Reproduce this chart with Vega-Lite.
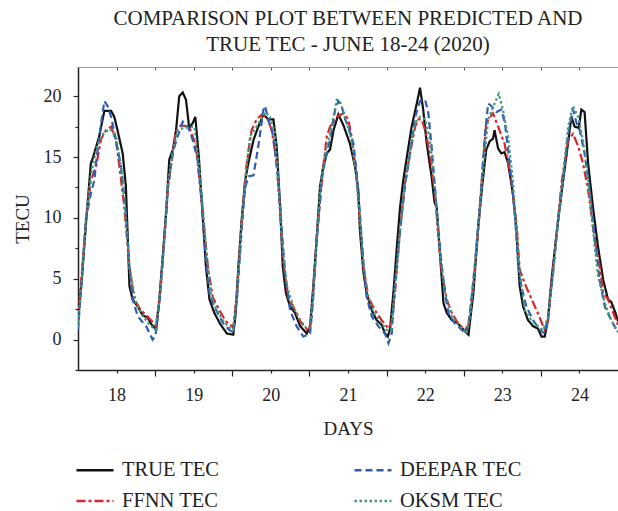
{
  "$schema": "https://vega.github.io/schema/vega-lite/v6.json",
  "autosize": {"type": "none"},
  "padding": {"left": 78, "top": 67, "right": 0, "bottom": 141},
  "width": 540,
  "height": 303,
  "background": "white",
  "config": {
    "font": "Liberation Serif",
    "view": {"stroke": null},
    "axis": {"grid": false, "domainColor": "#222", "tickColor": "#222", "labelColor": "#222", "titleColor": "#222", "labelFont": "Liberation Serif", "titleFont": "Liberation Serif", "titleFontWeight": "normal"}
  },
  "title": {
    "text": ["COMPARISON PLOT BETWEEN PREDICTED AND", "TRUE TEC - JUNE 18-24 (2020)"],
    "font": "Liberation Serif",
    "fontSize": 21,
    "fontWeight": "normal",
    "color": "#222",
    "anchor": "middle",
    "lineHeight": 26,
    "offset": 12
  },
  "data": {
    "values": [
      {"series":"TRUE TEC","hour":0,"tec":1.5},{"series":"TRUE TEC","hour":1.2,"tec":5},{"series":"TRUE TEC","hour":2.5,"tec":9.6},{"series":"TRUE TEC","hour":4,"tec":14.5},{"series":"TRUE TEC","hour":4.6,"tec":14.9},{"series":"TRUE TEC","hour":6.6,"tec":16.7},{"series":"TRUE TEC","hour":8.2,"tec":18.8},{"series":"TRUE TEC","hour":10.3,"tec":18.8},{"series":"TRUE TEC","hour":11.3,"tec":18.3},{"series":"TRUE TEC","hour":12.3,"tec":17.2},{"series":"TRUE TEC","hour":13.9,"tec":15.3},{"series":"TRUE TEC","hour":14.9,"tec":12.6},{"series":"TRUE TEC","hour":15.5,"tec":8.2},{"series":"TRUE TEC","hour":16,"tec":4.4},{"series":"TRUE TEC","hour":17,"tec":3.3},{"series":"TRUE TEC","hour":18.6,"tec":2.7},{"series":"TRUE TEC","hour":20.1,"tec":2.0},{"series":"TRUE TEC","hour":21.7,"tec":1.8},{"series":"TRUE TEC","hour":22.7,"tec":1.3},{"series":"TRUE TEC","hour":24.3,"tec":0.8},
      {"series":"TRUE TEC","hour":25.3,"tec":3.3},{"series":"TRUE TEC","hour":26.6,"tec":7.6},{"series":"TRUE TEC","hour":27.4,"tec":10.4},{"series":"TRUE TEC","hour":28.4,"tec":14.8},{"series":"TRUE TEC","hour":29.5,"tec":15.6},{"series":"TRUE TEC","hour":30.5,"tec":17.2},{"series":"TRUE TEC","hour":31.5,"tec":20.0},{"series":"TRUE TEC","hour":32.6,"tec":20.3},{"series":"TRUE TEC","hour":33.6,"tec":19.7},{"series":"TRUE TEC","hour":34.6,"tec":17.4},{"series":"TRUE TEC","hour":35.7,"tec":17.8},{"series":"TRUE TEC","hour":36.5,"tec":18.3},{"series":"TRUE TEC","hour":37.6,"tec":15.0},{"series":"TRUE TEC","hour":38.6,"tec":10.9},{"series":"TRUE TEC","hour":39.8,"tec":6.0},{"series":"TRUE TEC","hour":40.9,"tec":3.3},{"series":"TRUE TEC","hour":42.4,"tec":2.2},{"series":"TRUE TEC","hour":44.2,"tec":1.3},{"series":"TRUE TEC","hour":46.3,"tec":0.5},{"series":"TRUE TEC","hour":48.3,"tec":0.4},
      {"series":"TRUE TEC","hour":49,"tec":2.0},{"series":"TRUE TEC","hour":49.9,"tec":6.0},{"series":"TRUE TEC","hour":50.9,"tec":9.8},{"series":"TRUE TEC","hour":52,"tec":13.1},{"series":"TRUE TEC","hour":53,"tec":14.5},{"series":"TRUE TEC","hour":54.6,"tec":16.4},{"series":"TRUE TEC","hour":56.1,"tec":17.5},{"series":"TRUE TEC","hour":57.7,"tec":18.5},{"series":"TRUE TEC","hour":59.2,"tec":18.1},{"series":"TRUE TEC","hour":60.8,"tec":18.1},{"series":"TRUE TEC","hour":61.8,"tec":15.9},{"series":"TRUE TEC","hour":62.9,"tec":10.9},{"series":"TRUE TEC","hour":63.7,"tec":6.0},{"series":"TRUE TEC","hour":64.7,"tec":3.8},{"series":"TRUE TEC","hour":66,"tec":2.7},{"series":"TRUE TEC","hour":67.5,"tec":2.2},{"series":"TRUE TEC","hour":69.1,"tec":1.1},{"series":"TRUE TEC","hour":71.2,"tec":0.5},
      {"series":"TRUE TEC","hour":72.2,"tec":1.1},{"series":"TRUE TEC","hour":73.2,"tec":4.4},{"series":"TRUE TEC","hour":74.3,"tec":8.5},{"series":"TRUE TEC","hour":75.3,"tec":12.6},{"series":"TRUE TEC","hour":76.3,"tec":14.2},{"series":"TRUE TEC","hour":77.4,"tec":15.3},{"series":"TRUE TEC","hour":78.4,"tec":15.6},{"series":"TRUE TEC","hour":79.5,"tec":17.2},{"series":"TRUE TEC","hour":81,"tec":18.5},{"series":"TRUE TEC","hour":82.6,"tec":17.6},{"series":"TRUE TEC","hour":84.6,"tec":16.1},{"series":"TRUE TEC","hour":86.2,"tec":14.2},{"series":"TRUE TEC","hour":87.2,"tec":12.3},{"series":"TRUE TEC","hour":87.7,"tec":9.0},{"series":"TRUE TEC","hour":88.8,"tec":5.5},{"series":"TRUE TEC","hour":89.8,"tec":3.8},{"series":"TRUE TEC","hour":91.4,"tec":2.4},{"series":"TRUE TEC","hour":92.9,"tec":1.6},{"series":"TRUE TEC","hour":94.5,"tec":1.2},{"series":"TRUE TEC","hour":95.5,"tec":0.5},{"series":"TRUE TEC","hour":96.4,"tec":0.25},
      {"series":"TRUE TEC","hour":97.1,"tec":0.9},{"series":"TRUE TEC","hour":98.1,"tec":3.8},{"series":"TRUE TEC","hour":99.2,"tec":7.6},{"series":"TRUE TEC","hour":100.2,"tec":10.9},{"series":"TRUE TEC","hour":101.2,"tec":13.1},{"series":"TRUE TEC","hour":102.3,"tec":15.0},{"series":"TRUE TEC","hour":103.8,"tec":17.5},{"series":"TRUE TEC","hour":105.4,"tec":19.4},{"series":"TRUE TEC","hour":106.4,"tec":20.7},{"series":"TRUE TEC","hour":107.4,"tec":18.9},{"series":"TRUE TEC","hour":108.5,"tec":16.1},{"series":"TRUE TEC","hour":110,"tec":13.4},{"series":"TRUE TEC","hour":110.9,"tec":11.3},{"series":"TRUE TEC","hour":111.6,"tec":10.9},{"series":"TRUE TEC","hour":112.6,"tec":7.1},{"series":"TRUE TEC","hour":113.7,"tec":3.0},{"series":"TRUE TEC","hour":114.7,"tec":2.2},{"series":"TRUE TEC","hour":116.3,"tec":1.6},{"series":"TRUE TEC","hour":118.3,"tec":1.3},{"series":"TRUE TEC","hour":119.9,"tec":0.8},{"series":"TRUE TEC","hour":121.5,"tec":0.4},
      {"series":"TRUE TEC","hour":122,"tec":1.6},{"series":"TRUE TEC","hour":123,"tec":3.8},{"series":"TRUE TEC","hour":124.5,"tec":9.2},{"series":"TRUE TEC","hour":125.7,"tec":12.5},{"series":"TRUE TEC","hour":127,"tec":15.6},{"series":"TRUE TEC","hour":128.1,"tec":16.3},{"series":"TRUE TEC","hour":129.1,"tec":16.5},{"series":"TRUE TEC","hour":129.6,"tec":17.2},{"series":"TRUE TEC","hour":130.7,"tec":15.7},{"series":"TRUE TEC","hour":131.7,"tec":15.3},{"series":"TRUE TEC","hour":132.7,"tec":15.4},{"series":"TRUE TEC","hour":133.8,"tec":14.5},{"series":"TRUE TEC","hour":135.3,"tec":12.0},{"series":"TRUE TEC","hour":136.4,"tec":9.0},{"series":"TRUE TEC","hour":137.4,"tec":4.4},{"series":"TRUE TEC","hour":138.5,"tec":2.7},{"series":"TRUE TEC","hour":140,"tec":1.6},{"series":"TRUE TEC","hour":141.6,"tec":1.1},{"series":"TRUE TEC","hour":143.1,"tec":0.9},{"series":"TRUE TEC","hour":144.2,"tec":0.25},{"series":"TRUE TEC","hour":145.2,"tec":0.25},
      {"series":"TRUE TEC","hour":146.2,"tec":1.6},{"series":"TRUE TEC","hour":147.3,"tec":4.9},{"series":"TRUE TEC","hour":148.8,"tec":8.5},{"series":"TRUE TEC","hour":150.4,"tec":12.0},{"series":"TRUE TEC","hour":151.9,"tec":15.0},{"series":"TRUE TEC","hour":153.5,"tec":18.3},{"series":"TRUE TEC","hour":154.5,"tec":17.5},{"series":"TRUE TEC","hour":155.8,"tec":17.4},{"series":"TRUE TEC","hour":156.6,"tec":18.9},{"series":"TRUE TEC","hour":157.6,"tec":18.7},{"series":"TRUE TEC","hour":158.7,"tec":14.5},{"series":"TRUE TEC","hour":160.2,"tec":10.9},{"series":"TRUE TEC","hour":161.8,"tec":7.6},{"series":"TRUE TEC","hour":163.4,"tec":4.9},{"series":"TRUE TEC","hour":164.9,"tec":3.3},{"series":"TRUE TEC","hour":165.9,"tec":3.1},{"series":"TRUE TEC","hour":167.2,"tec":2.2},{"series":"TRUE TEC","hour":168,"tec":1.5},

      {"series":"FFNN TEC","hour":0,"tec":1.5},{"series":"FFNN TEC","hour":1.2,"tec":5.5},{"series":"FFNN TEC","hour":2.5,"tec":9.8},{"series":"FFNN TEC","hour":4,"tec":13.1},{"series":"FFNN TEC","hour":5.6,"tec":14.2},{"series":"FFNN TEC","hour":7.2,"tec":16.5},{"series":"FFNN TEC","hour":8.7,"tec":17.2},{"series":"FFNN TEC","hour":10.3,"tec":17.5},{"series":"FFNN TEC","hour":11.8,"tec":16.4},{"series":"FFNN TEC","hour":12.9,"tec":14.2},{"series":"FFNN TEC","hour":14.4,"tec":10.9},{"series":"FFNN TEC","hour":16,"tec":6.0},{"series":"FFNN TEC","hour":17.5,"tec":3.3},{"series":"FFNN TEC","hour":19.6,"tec":2.4},{"series":"FFNN TEC","hour":21.7,"tec":1.9},{"series":"FFNN TEC","hour":24.3,"tec":1.1},
      {"series":"FFNN TEC","hour":25.5,"tec":3.5},{"series":"FFNN TEC","hour":26.8,"tec":8},{"series":"FFNN TEC","hour":28,"tec":12.5},{"series":"FFNN TEC","hour":29.3,"tec":15.0},{"series":"FFNN TEC","hour":30.5,"tec":17.1},{"series":"FFNN TEC","hour":32,"tec":17.6},{"series":"FFNN TEC","hour":34.6,"tec":17.5},{"series":"FFNN TEC","hour":36.7,"tec":15.9},{"series":"FFNN TEC","hour":37.8,"tec":13.1},{"series":"FFNN TEC","hour":38.8,"tec":10.4},{"series":"FFNN TEC","hour":40.4,"tec":6.0},{"series":"FFNN TEC","hour":41.9,"tec":3.5},{"series":"FFNN TEC","hour":44,"tec":2.4},{"series":"FFNN TEC","hour":46,"tec":1.5},{"series":"FFNN TEC","hour":48.3,"tec":1.0},
      {"series":"FFNN TEC","hour":49.5,"tec":4},{"series":"FFNN TEC","hour":50.9,"tec":9.5},{"series":"FFNN TEC","hour":52.5,"tec":14.5},{"series":"FFNN TEC","hour":54,"tec":17.2},{"series":"FFNN TEC","hour":55.6,"tec":18.1},{"series":"FFNN TEC","hour":57.2,"tec":18.5},{"series":"FFNN TEC","hour":58.7,"tec":18.3},{"series":"FFNN TEC","hour":60.3,"tec":17.2},{"series":"FFNN TEC","hour":61.8,"tec":14.5},{"series":"FFNN TEC","hour":62.9,"tec":10.4},{"series":"FFNN TEC","hour":63.9,"tec":6.3},{"series":"FFNN TEC","hour":65.4,"tec":3.5},{"series":"FFNN TEC","hour":67.5,"tec":2.4},{"series":"FFNN TEC","hour":69.6,"tec":1.3},{"series":"FFNN TEC","hour":71.7,"tec":0.7},
      {"series":"FFNN TEC","hour":72.6,"tec":1.5},{"series":"FFNN TEC","hour":74.3,"tec":8.5},{"series":"FFNN TEC","hour":76.3,"tec":14.2},{"series":"FFNN TEC","hour":77.4,"tec":16.7},{"series":"FFNN TEC","hour":78.4,"tec":17.5},{"series":"FFNN TEC","hour":80.5,"tec":18.3},{"series":"FFNN TEC","hour":82.6,"tec":18.6},{"series":"FFNN TEC","hour":84.1,"tec":18.1},{"series":"FFNN TEC","hour":85.1,"tec":16.7},{"series":"FFNN TEC","hour":86.7,"tec":13.4},{"series":"FFNN TEC","hour":87.7,"tec":9.8},{"series":"FFNN TEC","hour":88.8,"tec":6.0},{"series":"FFNN TEC","hour":90.3,"tec":3.5},{"series":"FFNN TEC","hour":92.4,"tec":2.4},{"series":"FFNN TEC","hour":94.5,"tec":1.6},{"series":"FFNN TEC","hour":96.6,"tec":0.9},
      {"series":"FFNN TEC","hour":97.6,"tec":1.5},{"series":"FFNN TEC","hour":98.6,"tec":3.8},{"series":"FFNN TEC","hour":100.2,"tec":9.0},{"series":"FFNN TEC","hour":101.7,"tec":12.8},{"series":"FFNN TEC","hour":103.3,"tec":15.3},{"series":"FFNN TEC","hour":104.9,"tec":17.5},{"series":"FFNN TEC","hour":105.9,"tec":18.1},{"series":"FFNN TEC","hour":106.9,"tec":18.1},{"series":"FFNN TEC","hour":108,"tec":17.2},{"series":"FFNN TEC","hour":109.5,"tec":15.3},{"series":"FFNN TEC","hour":111.1,"tec":11.8},{"series":"FFNN TEC","hour":112.1,"tec":8.5},{"series":"FFNN TEC","hour":113.2,"tec":5.5},{"series":"FFNN TEC","hour":114.7,"tec":3.3},{"series":"FFNN TEC","hour":116.3,"tec":2.2},{"series":"FFNN TEC","hour":118.3,"tec":1.3},{"series":"FFNN TEC","hour":120.4,"tec":0.8},
      {"series":"FFNN TEC","hour":121.5,"tec":1.2},{"series":"FFNN TEC","hour":123,"tec":4.5},{"series":"FFNN TEC","hour":124.5,"tec":9.0},{"series":"FFNN TEC","hour":126,"tec":14.5},{"series":"FFNN TEC","hour":127,"tec":17.8},{"series":"FFNN TEC","hour":129.1,"tec":18.6},{"series":"FFNN TEC","hour":130.7,"tec":17.5},{"series":"FFNN TEC","hour":132.7,"tec":16.1},{"series":"FFNN TEC","hour":134.8,"tec":13.1},{"series":"FFNN TEC","hour":136.4,"tec":9.6},{"series":"FFNN TEC","hour":137.4,"tec":5.8},{"series":"FFNN TEC","hour":139,"tec":4.6},{"series":"FFNN TEC","hour":141,"tec":3.4},{"series":"FFNN TEC","hour":143,"tec":2.2},{"series":"FFNN TEC","hour":145.2,"tec":0.8},
      {"series":"FFNN TEC","hour":146.2,"tec":1.6},{"series":"FFNN TEC","hour":147.5,"tec":5.0},{"series":"FFNN TEC","hour":149,"tec":9.0},{"series":"FFNN TEC","hour":150.5,"tec":13.0},{"series":"FFNN TEC","hour":152.5,"tec":16.4},{"series":"FFNN TEC","hour":154,"tec":16.9},{"series":"FFNN TEC","hour":155.6,"tec":15.9},{"series":"FFNN TEC","hour":157.1,"tec":14.5},{"series":"FFNN TEC","hour":158.7,"tec":12.3},{"series":"FFNN TEC","hour":160.8,"tec":8.2},{"series":"FFNN TEC","hour":162.3,"tec":6.0},{"series":"FFNN TEC","hour":163.4,"tec":3.8},{"series":"FFNN TEC","hour":164.9,"tec":3.3},{"series":"FFNN TEC","hour":166.5,"tec":2.2},{"series":"FFNN TEC","hour":168,"tec":1.2},

      {"series":"DEEPAR TEC","hour":0,"tec":0.8},{"series":"DEEPAR TEC","hour":1.2,"tec":5},{"series":"DEEPAR TEC","hour":2.5,"tec":10.0},{"series":"DEEPAR TEC","hour":4,"tec":12.0},{"series":"DEEPAR TEC","hour":5.1,"tec":13.1},{"series":"DEEPAR TEC","hour":5.6,"tec":14.5},{"series":"DEEPAR TEC","hour":7.2,"tec":17.8},{"series":"DEEPAR TEC","hour":8.2,"tec":19.6},{"series":"DEEPAR TEC","hour":9.2,"tec":19.2},{"series":"DEEPAR TEC","hour":10.3,"tec":18.3},{"series":"DEEPAR TEC","hour":11.8,"tec":16.4},{"series":"DEEPAR TEC","hour":13.4,"tec":14.2},{"series":"DEEPAR TEC","hour":14.9,"tec":10.4},{"series":"DEEPAR TEC","hour":16,"tec":6.0},{"series":"DEEPAR TEC","hour":17,"tec":3.3},{"series":"DEEPAR TEC","hour":18.6,"tec":1.9},{"series":"DEEPAR TEC","hour":21.2,"tec":1.1},{"series":"DEEPAR TEC","hour":23.2,"tec":0.0},{"series":"DEEPAR TEC","hour":24.1,"tec":0.3},
      {"series":"DEEPAR TEC","hour":25.3,"tec":3.0},{"series":"DEEPAR TEC","hour":26.6,"tec":7.5},{"series":"DEEPAR TEC","hour":28,"tec":12.5},{"series":"DEEPAR TEC","hour":29.5,"tec":15.4},{"series":"DEEPAR TEC","hour":31,"tec":16.7},{"series":"DEEPAR TEC","hour":32.6,"tec":17.9},{"series":"DEEPAR TEC","hour":34.2,"tec":17.5},{"series":"DEEPAR TEC","hour":35.7,"tec":16.4},{"series":"DEEPAR TEC","hour":37.2,"tec":14.8},{"series":"DEEPAR TEC","hour":38.5,"tec":11.5},{"series":"DEEPAR TEC","hour":39.8,"tec":6.5},{"series":"DEEPAR TEC","hour":41,"tec":3.6},{"series":"DEEPAR TEC","hour":43,"tec":2.4},{"series":"DEEPAR TEC","hour":45,"tec":1.4},{"series":"DEEPAR TEC","hour":47,"tec":0.8},{"series":"DEEPAR TEC","hour":48.3,"tec":0.6},
      {"series":"DEEPAR TEC","hour":49.5,"tec":3.5},{"series":"DEEPAR TEC","hour":50.9,"tec":9.0},{"series":"DEEPAR TEC","hour":52,"tec":12.5},{"series":"DEEPAR TEC","hour":53,"tec":13.4},{"series":"DEEPAR TEC","hour":54.6,"tec":13.5},{"series":"DEEPAR TEC","hour":56.1,"tec":15.9},{"series":"DEEPAR TEC","hour":57.7,"tec":18.9},{"series":"DEEPAR TEC","hour":58.2,"tec":19.2},{"series":"DEEPAR TEC","hour":59.2,"tec":18.1},{"series":"DEEPAR TEC","hour":60.8,"tec":16.7},{"series":"DEEPAR TEC","hour":62.3,"tec":13.1},{"series":"DEEPAR TEC","hour":63.4,"tec":9.0},{"series":"DEEPAR TEC","hour":64.4,"tec":5.5},{"series":"DEEPAR TEC","hour":66,"tec":2.4},{"series":"DEEPAR TEC","hour":68,"tec":1.1},{"series":"DEEPAR TEC","hour":70.1,"tec":0.25},{"series":"DEEPAR TEC","hour":72.2,"tec":0.5},
      {"series":"DEEPAR TEC","hour":73.2,"tec":3.5},{"series":"DEEPAR TEC","hour":74.3,"tec":8.2},{"series":"DEEPAR TEC","hour":75.8,"tec":13.1},{"series":"DEEPAR TEC","hour":76.9,"tec":14.8},{"series":"DEEPAR TEC","hour":78.4,"tec":16.4},{"series":"DEEPAR TEC","hour":80,"tec":18.9},{"series":"DEEPAR TEC","hour":81,"tec":19.6},{"series":"DEEPAR TEC","hour":82,"tec":19.2},{"series":"DEEPAR TEC","hour":83.1,"tec":18.1},{"series":"DEEPAR TEC","hour":84.1,"tec":17.5},{"series":"DEEPAR TEC","hour":85.7,"tec":16.1},{"series":"DEEPAR TEC","hour":86.7,"tec":13.7},{"series":"DEEPAR TEC","hour":87.7,"tec":10.4},{"series":"DEEPAR TEC","hour":88.8,"tec":6.3},{"series":"DEEPAR TEC","hour":89.8,"tec":3.5},{"series":"DEEPAR TEC","hour":91.4,"tec":1.9},{"series":"DEEPAR TEC","hour":93.4,"tec":1.1},{"series":"DEEPAR TEC","hour":95.5,"tec":0.5},{"series":"DEEPAR TEC","hour":96.6,"tec":-0.3},
      {"series":"DEEPAR TEC","hour":97.6,"tec":0.5},{"series":"DEEPAR TEC","hour":98.6,"tec":4.4},{"series":"DEEPAR TEC","hour":100.2,"tec":9.0},{"series":"DEEPAR TEC","hour":101.7,"tec":12.6},{"series":"DEEPAR TEC","hour":103.3,"tec":15.3},{"series":"DEEPAR TEC","hour":104.9,"tec":18.3},{"series":"DEEPAR TEC","hour":106.4,"tec":19.6},{"series":"DEEPAR TEC","hour":108,"tec":19.7},{"series":"DEEPAR TEC","hour":109,"tec":18.6},{"series":"DEEPAR TEC","hour":110,"tec":15.9},{"series":"DEEPAR TEC","hour":111.1,"tec":12.3},{"series":"DEEPAR TEC","hour":112.1,"tec":9.0},{"series":"DEEPAR TEC","hour":113.2,"tec":6.0},{"series":"DEEPAR TEC","hour":114.2,"tec":3.8},{"series":"DEEPAR TEC","hour":115.2,"tec":2.2},{"series":"DEEPAR TEC","hour":117.3,"tec":1.3},{"series":"DEEPAR TEC","hour":119.4,"tec":0.8},{"series":"DEEPAR TEC","hour":120.9,"tec":0.5},
      {"series":"DEEPAR TEC","hour":122,"tec":2.2},{"series":"DEEPAR TEC","hour":123.5,"tec":6.3},{"series":"DEEPAR TEC","hour":125,"tec":10.9},{"series":"DEEPAR TEC","hour":126,"tec":14.5},{"series":"DEEPAR TEC","hour":126.6,"tec":16.8},{"series":"DEEPAR TEC","hour":127.6,"tec":19.4},{"series":"DEEPAR TEC","hour":128.6,"tec":19.2},{"series":"DEEPAR TEC","hour":130.2,"tec":18.7},{"series":"DEEPAR TEC","hour":131.7,"tec":18.9},{"series":"DEEPAR TEC","hour":132.8,"tec":17.8},{"series":"DEEPAR TEC","hour":134.3,"tec":14.5},{"series":"DEEPAR TEC","hour":135.9,"tec":10.4},{"series":"DEEPAR TEC","hour":136.9,"tec":6.3},{"series":"DEEPAR TEC","hour":137.9,"tec":4.4},{"series":"DEEPAR TEC","hour":139.5,"tec":2.7},{"series":"DEEPAR TEC","hour":141.6,"tec":1.6},{"series":"DEEPAR TEC","hour":143.6,"tec":0.8},{"series":"DEEPAR TEC","hour":145.2,"tec":0.5},
      {"series":"DEEPAR TEC","hour":146.2,"tec":1.6},{"series":"DEEPAR TEC","hour":147.8,"tec":5.5},{"series":"DEEPAR TEC","hour":149.3,"tec":9.6},{"series":"DEEPAR TEC","hour":150.9,"tec":13.1},{"series":"DEEPAR TEC","hour":152.5,"tec":16.9},{"series":"DEEPAR TEC","hour":154,"tec":18.9},{"series":"DEEPAR TEC","hour":155.1,"tec":17.8},{"series":"DEEPAR TEC","hour":156.1,"tec":17.2},{"series":"DEEPAR TEC","hour":157.6,"tec":15.3},{"series":"DEEPAR TEC","hour":159.2,"tec":12.3},{"series":"DEEPAR TEC","hour":160.8,"tec":8.2},{"series":"DEEPAR TEC","hour":162.3,"tec":4.9},{"series":"DEEPAR TEC","hour":163.9,"tec":2.7},{"series":"DEEPAR TEC","hour":165.9,"tec":1.6},{"series":"DEEPAR TEC","hour":167.5,"tec":0.8},{"series":"DEEPAR TEC","hour":168,"tec":0.6},

      {"series":"OKSM TEC","hour":0,"tec":1.0},{"series":"OKSM TEC","hour":1.2,"tec":5},{"series":"OKSM TEC","hour":2.5,"tec":10},{"series":"OKSM TEC","hour":4,"tec":13.5},{"series":"OKSM TEC","hour":6,"tec":16.0},{"series":"OKSM TEC","hour":8,"tec":17.0},{"series":"OKSM TEC","hour":10,"tec":17.3},{"series":"OKSM TEC","hour":12,"tec":16.5},{"series":"OKSM TEC","hour":14,"tec":13},{"series":"OKSM TEC","hour":16,"tec":6},{"series":"OKSM TEC","hour":18,"tec":3},{"series":"OKSM TEC","hour":20,"tec":2},{"series":"OKSM TEC","hour":22,"tec":1.3},{"series":"OKSM TEC","hour":24,"tec":0.8},
      {"series":"OKSM TEC","hour":25.5,"tec":3.5},{"series":"OKSM TEC","hour":26.8,"tec":8},{"series":"OKSM TEC","hour":28,"tec":12.8},{"series":"OKSM TEC","hour":29.5,"tec":15.5},{"series":"OKSM TEC","hour":31,"tec":17.2},{"series":"OKSM TEC","hour":33,"tec":17.4},{"series":"OKSM TEC","hour":36.2,"tec":17.5},{"series":"OKSM TEC","hour":37.8,"tec":14},{"series":"OKSM TEC","hour":38.8,"tec":11},{"series":"OKSM TEC","hour":40,"tec":7},{"series":"OKSM TEC","hour":41.5,"tec":3.6},{"series":"OKSM TEC","hour":43,"tec":2.5},{"series":"OKSM TEC","hour":45,"tec":1.6},{"series":"OKSM TEC","hour":47,"tec":1.0},{"series":"OKSM TEC","hour":48.3,"tec":0.8},
      {"series":"OKSM TEC","hour":49.5,"tec":3.8},{"series":"OKSM TEC","hour":50.9,"tec":9.5},{"series":"OKSM TEC","hour":52,"tec":13},{"series":"OKSM TEC","hour":53.5,"tec":16.7},{"series":"OKSM TEC","hour":55.6,"tec":17.5},{"series":"OKSM TEC","hour":58.2,"tec":18.7},{"series":"OKSM TEC","hour":59.7,"tec":18.3},{"series":"OKSM TEC","hour":61.3,"tec":17},{"series":"OKSM TEC","hour":62.3,"tec":13.1},{"series":"OKSM TEC","hour":63.4,"tec":8.2},{"series":"OKSM TEC","hour":65,"tec":4.4},{"series":"OKSM TEC","hour":67,"tec":2.7},{"series":"OKSM TEC","hour":69.1,"tec":1.6},{"series":"OKSM TEC","hour":71.2,"tec":0.9},
      {"series":"OKSM TEC","hour":72.2,"tec":1.0},{"series":"OKSM TEC","hour":73.2,"tec":3.8},{"series":"OKSM TEC","hour":74.3,"tec":8.3},{"series":"OKSM TEC","hour":75.5,"tec":12.8},{"series":"OKSM TEC","hour":77,"tec":15.5},{"series":"OKSM TEC","hour":78.5,"tec":17.0},{"series":"OKSM TEC","hour":80.5,"tec":19.7},{"series":"OKSM TEC","hour":81.5,"tec":19.6},{"series":"OKSM TEC","hour":83.6,"tec":17.8},{"series":"OKSM TEC","hour":85,"tec":16.5},{"series":"OKSM TEC","hour":86.5,"tec":13.5},{"series":"OKSM TEC","hour":87.7,"tec":10},{"series":"OKSM TEC","hour":88.8,"tec":6.2},{"series":"OKSM TEC","hour":90,"tec":3.8},{"series":"OKSM TEC","hour":92,"tec":2.2},{"series":"OKSM TEC","hour":94,"tec":1.5},{"series":"OKSM TEC","hour":96,"tec":0.8},
      {"series":"OKSM TEC","hour":97.4,"tec":0.8},{"series":"OKSM TEC","hour":98.6,"tec":4.2},{"series":"OKSM TEC","hour":100.2,"tec":9.0},{"series":"OKSM TEC","hour":101.7,"tec":12.8},{"series":"OKSM TEC","hour":103.3,"tec":15.5},{"series":"OKSM TEC","hour":104.9,"tec":17.8},{"series":"OKSM TEC","hour":106.4,"tec":18.3},{"series":"OKSM TEC","hour":108,"tec":18.1},{"series":"OKSM TEC","hour":109.5,"tec":16.4},{"series":"OKSM TEC","hour":111.1,"tec":12.3},{"series":"OKSM TEC","hour":112.6,"tec":7.1},{"series":"OKSM TEC","hour":114.2,"tec":3.8},{"series":"OKSM TEC","hour":116.3,"tec":1.9},{"series":"OKSM TEC","hour":118.8,"tec":1.1},{"series":"OKSM TEC","hour":120.9,"tec":0.5},
      {"series":"OKSM TEC","hour":122,"tec":2.0},{"series":"OKSM TEC","hour":123.5,"tec":6.0},{"series":"OKSM TEC","hour":124.5,"tec":9.2},{"series":"OKSM TEC","hour":126,"tec":13.8},{"series":"OKSM TEC","hour":127.6,"tec":18.1},{"series":"OKSM TEC","hour":129.6,"tec":19.4},{"series":"OKSM TEC","hour":130.9,"tec":20.2},{"series":"OKSM TEC","hour":132.2,"tec":18.9},{"series":"OKSM TEC","hour":133.8,"tec":16.7},{"series":"OKSM TEC","hour":135.3,"tec":13.1},{"series":"OKSM TEC","hour":136.4,"tec":9.0},{"series":"OKSM TEC","hour":137.4,"tec":5.5},{"series":"OKSM TEC","hour":139,"tec":2.4},{"series":"OKSM TEC","hour":141,"tec":1.6},{"series":"OKSM TEC","hour":143.1,"tec":1.1},{"series":"OKSM TEC","hour":144.7,"tec":0.8},
      {"series":"OKSM TEC","hour":146.2,"tec":1.8},{"series":"OKSM TEC","hour":147.8,"tec":5.5},{"series":"OKSM TEC","hour":149.3,"tec":9.6},{"series":"OKSM TEC","hour":150.9,"tec":13.5},{"series":"OKSM TEC","hour":152.5,"tec":17.5},{"series":"OKSM TEC","hour":154,"tec":19.2},{"series":"OKSM TEC","hour":155.6,"tec":18.3},{"series":"OKSM TEC","hour":157.1,"tec":16.4},{"series":"OKSM TEC","hour":158.7,"tec":13.1},{"series":"OKSM TEC","hour":160.2,"tec":9.0},{"series":"OKSM TEC","hour":161.8,"tec":5.2},{"series":"OKSM TEC","hour":163.9,"tec":3.0},{"series":"OKSM TEC","hour":165.9,"tec":1.6},{"series":"OKSM TEC","hour":168,"tec":0.6}
    ]
  },
  "encoding": {
    "y": {
      "field": "tec", "type": "quantitative",
      "scale": {"domain": [-2.5, 22.4], "nice": false, "zero": false},
      "axis": {
        "title": "TECU", "titleFontSize": 19, "titlePadding": 11,
        "values": [-2.5, 0, 2.5, 5, 7.5, 10, 12.5, 15, 17.5, 20],
        "labelExpr": "datum.value % 5 == 0 ? datum.label : ''",
        "labelFontSize": 18, "labelPadding": 12,
        "tickSize": {"condition": {"test": "datum.value % 5 == 0", "value": 5}, "value": 3},
        "domainWidth": 1.5, "tickWidth": 1.2
      }
    }
  },
  "layer": [
    {
      "mark": {"type": "line", "strokeWidth": 2.2, "clip": true},
      "encoding": {
        "x": {
          "field": "hour", "type": "quantitative",
          "scale": {"domain": [0, 168], "nice": false, "zero": false},
          "axis": {
            "orient": "bottom", "title": "DAYS", "titleFontSize": 19, "titlePadding": 15,
            "values": [12, 24, 36, 48, 60, 72, 84, 96, 108, 120, 132, 144, 156],
            "labelExpr": "(datum.value - 12) % 24 == 0 ? '' + ((datum.value - 12) / 24 + 18) : ''",
            "labelFontSize": 18, "labelPadding": 13,
            "tickSize": {"condition": {"test": "datum.value % 24 == 0", "value": 6}, "value": 3},
            "domainWidth": 1.5, "tickWidth": 1.2
          }
        },
        "color": {
          "field": "series", "type": "nominal",
          "scale": {"domain": ["TRUE TEC", "FFNN TEC", "DEEPAR TEC", "OKSM TEC"], "range": ["#111111", "#d9262b", "#2f5cb5", "#3f9a78"]},
          "legend": {"title": null, "orient": "none", "legendX": -3, "legendY": 383, "columns": 2, "columnPadding": 129, "rowPadding": -3, "symbolType": "stroke", "symbolSize": 1369, "symbolStrokeWidth": 2.5, "labelFontSize": 20.5, "labelFont": "Liberation Serif", "labelColor": "#222", "labelOffset": 7}
        },
        "strokeDash": {
          "field": "series", "type": "nominal",
          "scale": {"domain": ["TRUE TEC", "FFNN TEC", "DEEPAR TEC", "OKSM TEC"], "range": [[1, 0], [9, 3, 3, 3], [7, 4], [2.5, 2.5]]},
          "legend": {"title": null, "orient": "none", "legendX": -3, "legendY": 383, "columns": 2, "columnPadding": 129, "rowPadding": -3, "symbolType": "stroke", "symbolSize": 1369, "symbolStrokeWidth": 2.5, "labelFontSize": 20.5, "labelFont": "Liberation Serif", "labelColor": "#222", "labelOffset": 7}
        }
      }
    },
    {
      "mark": {"type": "line", "opacity": 0},
      "encoding": {
        "x": {
          "field": "hour", "type": "quantitative",
          "axis": {
            "orient": "top", "title": null, "labels": false,
            "values": [12, 24, 36, 48, 60, 72, 84, 96, 108, 120, 132, 144, 156],
            "tickSize": -3, "domainColor": "#999", "domainWidth": 1, "tickColor": "#555"
          }
        },
        "detail": {"field": "series"}
      }
    }
  ],
  "resolve": {"axis": {"x": "independent"}}
}
